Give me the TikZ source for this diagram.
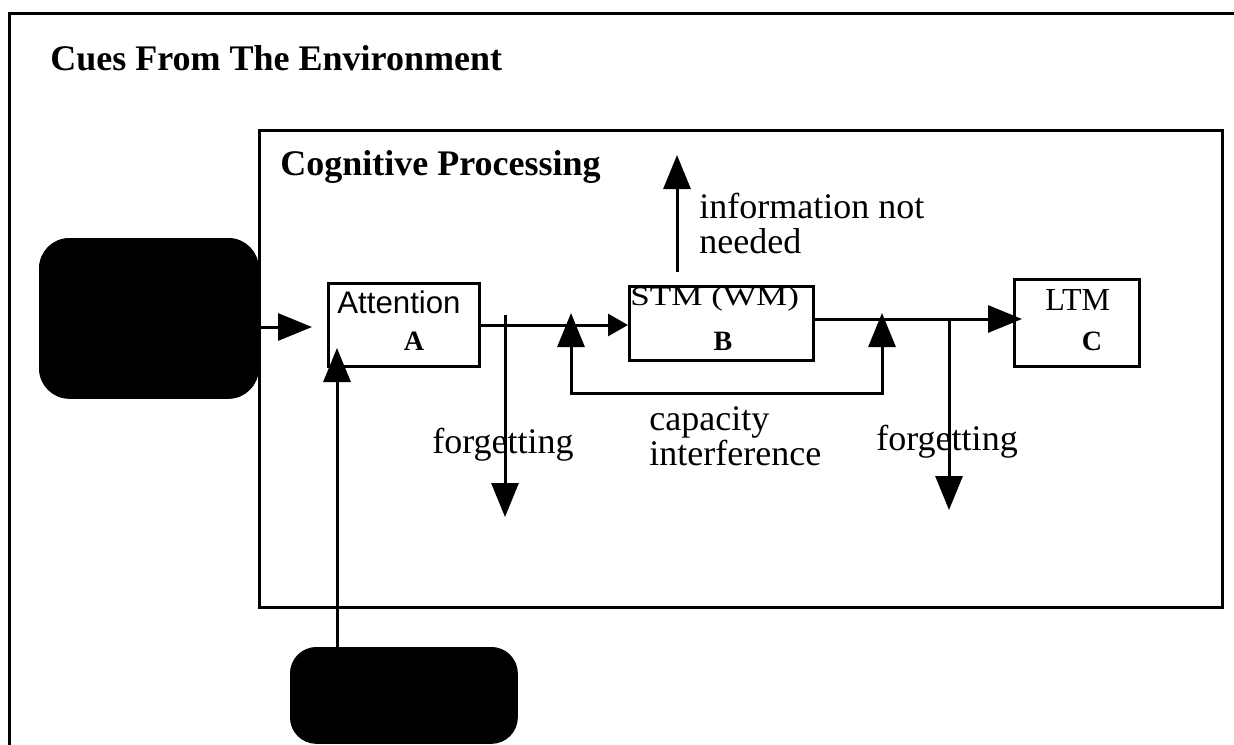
\documentclass[tikz,border=0pt]{standalone}
\usepackage{fontspec}
\setmainfont{Liberation Serif}
\setsansfont{Liberation Sans}
\usetikzlibrary{arrows.meta}
\begin{document}
\begin{tikzpicture}[x=0.5pt,y=-0.5pt,
  frame/.style={draw, line width=1.6pt, anchor=north west, inner sep=0pt},
  blob/.style={fill=black, draw=black, anchor=north west, inner sep=0pt},
  stage/.style={draw, line width=1.5pt, anchor=north west, inner sep=0pt},
  wire/.style={line width=1.5pt},
  bigtip/.style={wire, -{Triangle[length=17pt,width=13.5pt]}},
  smalltip/.style={wire, -{Triangle[length=10pt,width=11pt]}},
  heading/.style={anchor=base west, inner sep=0pt, font=\fontsize{18}{20}\selectfont\bfseries},
  note/.style={anchor=base west, inner sep=0pt, font=\fontsize{18}{20}\selectfont},
  sanslbl/.style={anchor=base west, inner sep=0pt, font=\fontsize{15.6}{18}\selectfont\sffamily},
  seriflbl/.style={anchor=base west, inner sep=0pt, font=\fontsize{16}{18}\selectfont},
  letter/.style={anchor=base, inner sep=0pt, font=\fontsize{14}{16}\selectfont\bfseries},
  stmtext/.style={anchor=base west, inner sep=0pt, font=\fontsize{13.5}{16}\selectfont}]
\clip (0,0) rectangle (1234,744);
\useasboundingbox (0,0) rectangle (1234,744);

% outer frame (runs off the right and bottom edges)
\node[frame, minimum width=626pt, minimum height=374pt] (env) at (8,12) {};
\node[heading] (hEnv) at (50,70) {Cues From The Environment};

% inner frame
\node[frame, minimum width=481.5pt, minimum height=238.5pt] (proc) at (258,129) {};
\node[heading] (hProc) at (280,175) {Cognitive Processing};

% black input blocks
\node[blob, rounded corners=15pt, minimum width=109.5pt, minimum height=80pt] (src) at (39,238) {};
\node[blob, rounded corners=13pt, minimum width=113.5pt, minimum height=48pt] (ctl) at (290,647) {};

% memory stages
\node[stage, minimum width=75.5pt, minimum height=41.5pt] (att) at (327,282) {};
\node[stage, minimum width=92pt, minimum height=37pt] (stm) at (628,285) {};
\node[stage, minimum width=62.5pt, minimum height=43.5pt] (ltm) at (1013,278) {};

\node[sanslbl] (tAtt) at (337,313) {Attention};
\node[letter] (tA) at (414,350) {A};
\node[stmtext] (tStm) at (630,305) {\scalebox{1.3}[1]{STM (WM)}};
\node[letter] (tB) at (723,350) {B};
\node[seriflbl] (tLtm) at (1045,310) {LTM};
\node[letter] (tC) at (1092,350) {C};

% connectors
\coordinate (p1) at (312,327);
\draw[bigtip] (src.east |- p1) -- (p1);

\coordinate (p2) at (337,348);
\draw[bigtip] (ctl.north -| p2) -- (p2);

\coordinate (lvlA) at (0,325);
\draw[smalltip] (att.east |- lvlA) -- (stm.west |- lvlA);

\coordinate (f1top) at (505,315);
\coordinate (f1end) at (505,517);
\draw[bigtip] (f1top) -- (f1end);

\coordinate (fbL) at (571,313);
\coordinate (fbR) at (882,313);
\draw[wire, {Triangle[length=17pt,width=13.5pt]}-{Triangle[length=17pt,width=13.5pt]}]
  (fbL) -- ++(0,80) -| (fbR);

\coordinate (lvlB) at (0,319);
\coordinate (ltmIn) at (1022,319);
\draw[bigtip] (stm.east |- lvlB) -- (ltmIn);

\coordinate (f2top) at (949,318);
\coordinate (f2end) at (949,510);
\draw[bigtip] (f2top) -- (f2end);

\coordinate (up0) at (677,272);
\coordinate (up1) at (677,155);
\draw[bigtip] (up0) -- (up1);

% labels
\node[note] (lblInfo) at (699,218) {information not};
\node[note] (lblNeeded) at (699,253) {needed};
\node[note] (lblF1) at (432,453) {forgetting};
\node[note] (lblCap) at (649,430) {capacity};
\node[note] (lblInt) at (649,465) {interference};
\node[note] (lblF2) at (876,450) {forgetting};
\end{tikzpicture}
\end{document}
